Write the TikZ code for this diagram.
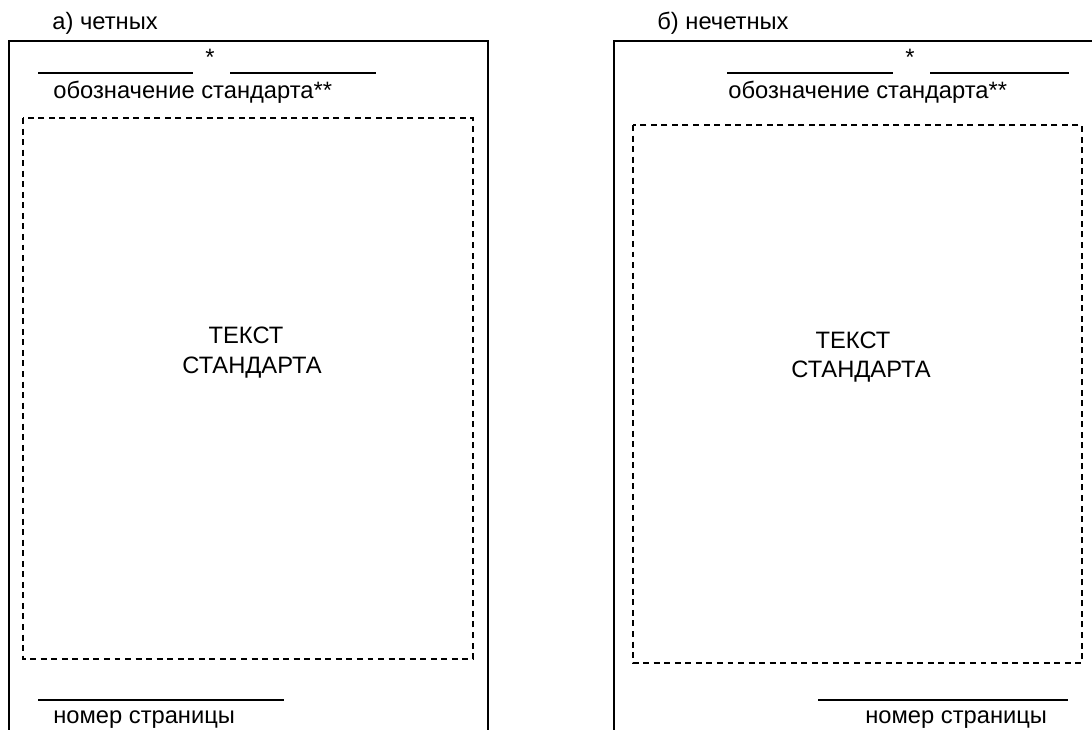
\documentclass[tikz,border=0pt]{standalone}
\usepackage{fontspec}
\setmainfont{Liberation Sans}
\usepackage{tikz}
\usetikzlibrary{positioning}
\tikzstyle{frm}=[line width=0.7pt, black]
\tikzstyle{txtzone}=[line width=0.6pt, dash pattern=on 3.4pt off 2.6pt]
\tikzstyle{rule}=[line width=0.6pt]
\tikzstyle{lbl}=[font=\fontsize{13.5}{16}\selectfont, inner sep=0, anchor=base west]
\tikzstyle{ctr}=[font=\fontsize{13.5}{16}\selectfont, inner sep=0, anchor=base]

\begin{document}
\begin{tikzpicture}[x=0.02cm, y=-0.02cm]
\useasboundingbox (0,0) rectangle (1092,730);

% a) even pages
\node[lbl] (headA) at (52,30) {а) четных};
\draw[frm] (9,732) -- (9,41) -- (488,41) -- (488,732);
\coordinate (a1s) at (38,73);  \coordinate (a1e) at (193,73);
\coordinate (a2s) at (230,73); \coordinate (a2e) at (376,73);
\draw[rule] (a1s) -- (a1e);
\draw[rule] (a2s) -- (a2e);
\node[ctr] (starA) at (210,65) {*};
\node[lbl] (desA) at (53,98) {обозначение стандарта**};
\draw[txtzone] (23,118) rectangle (473,659);
\node[ctr] (txtA1) at (246,343) {ТЕКСТ};
\node[ctr] (txtA2) at (252,373) {СТАНДАРТА};
\coordinate (a3s) at (38,700); \coordinate (a3e) at (284,700);
\draw[rule] (a3s) -- (a3e);
\node[lbl] (numA) at (53,723) {номер страницы};

% b) odd pages
\node[lbl] (headB) at (657,30) {б) нечетных};
\draw[frm] (614,732) -- (614,41) -- (1095,41);
\coordinate (b1s) at (727,73);  \coordinate (b1e) at (893,73);
\coordinate (b2s) at (930,73);  \coordinate (b2e) at (1069,73);
\draw[rule] (b1s) -- (b1e);
\draw[rule] (b2s) -- (b2e);
\node[ctr] (starB) at (910,65) {*};
\node[lbl] (desB) at (728,98) {обозначение стандарта**};
\draw[txtzone] (633,125) rectangle (1082,663);
\node[ctr] (txtB1) at (853,348) {ТЕКСТ};
\node[ctr] (txtB2) at (861,377) {СТАНДАРТА};
\coordinate (b3s) at (818,700); \coordinate (b3e) at (1068,700);
\draw[rule] (b3s) -- (b3e);
\node[lbl] (numB) at (865,723) {номер страницы};
\end{tikzpicture}
\end{document}
